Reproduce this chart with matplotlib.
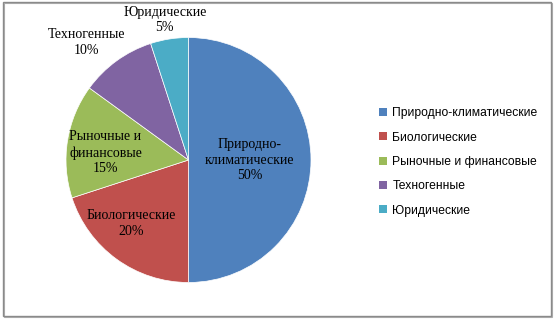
import numpy as np
import matplotlib.pyplot as plt
from matplotlib.patches import Rectangle, Patch

categories = ["Природно-климатические", "Биологические", "Рыночные и финансовые",
              "Техногенные", "Юридические"]
pie_labels = ["Природно-\nклиматические", "Биологические", "Рыночные и\nфинансовые",
              "Техногенные", "Юридические"]
shares = [50, 20, 15, 10, 5]
colors = ["#4F81BD", "#C0504D", "#9BBB59", "#8064A2", "#4BACC6"]
label_dist = [0.5, 0.7, 0.68, 1.27, 1.16]
label_shift = [0, -6, 4, 5, 0.6]  # degrees off the wedge middle

W, H = 554, 321
fig = plt.figure(figsize=(W / 100, H / 100), dpi=100)

# outer frame like an Excel chart area
fig.patches.append(Rectangle((3 / W, 1 - 316 / H), 548 / W, 314 / H,
                             transform=fig.transFigure, fill=False,
                             edgecolor="#8a8a8a", linewidth=1))
fig.patches.append(Rectangle((4 / W, 1 - 317 / H), 548 / W, 314 / H,
                             transform=fig.transFigure, fill=False,
                             edgecolor="#b0b0b0", linewidth=0.8, zorder=-1))

cx, cy, r = 188.5, 160, 122.5
ax = fig.add_axes([(cx - r) / W, (H - cy - r) / H, 2 * r / W, 2 * r / H])
wedges, _ = ax.pie(shares, colors=colors, startangle=90, counterclock=False,
                   radius=1, wedgeprops=dict(edgecolor="white", linewidth=0.5))
ax.set_xlim(-1, 1)
ax.set_ylim(-1, 1)
ax.set_aspect("equal")
ax.axis("off")

for w, lab, val, d, s in zip(wedges, pie_labels, shares, label_dist, label_shift):
    ang = np.deg2rad((w.theta1 + w.theta2) / 2 + s)
    ax.text(d * np.cos(ang), d * np.sin(ang), f"{lab}\n{val}%",
            ha="center", va="center", fontsize=10, family="Liberation Serif",
            linespacing=1.25, clip_on=False)

handles = [Patch(facecolor=c, edgecolor="none") for c in colors]
fig.legend(handles, categories, loc="center left",
           bbox_to_anchor=(379 / W, (H - 162) / H), frameon=False,
           prop=dict(family="Liberation Sans", size=8.7),
           handlelength=0.65, handleheight=0.65, handletextpad=0.45,
           labelspacing=1.02, borderpad=0, borderaxespad=0)

fig.savefig("out.png", dpi=100)
